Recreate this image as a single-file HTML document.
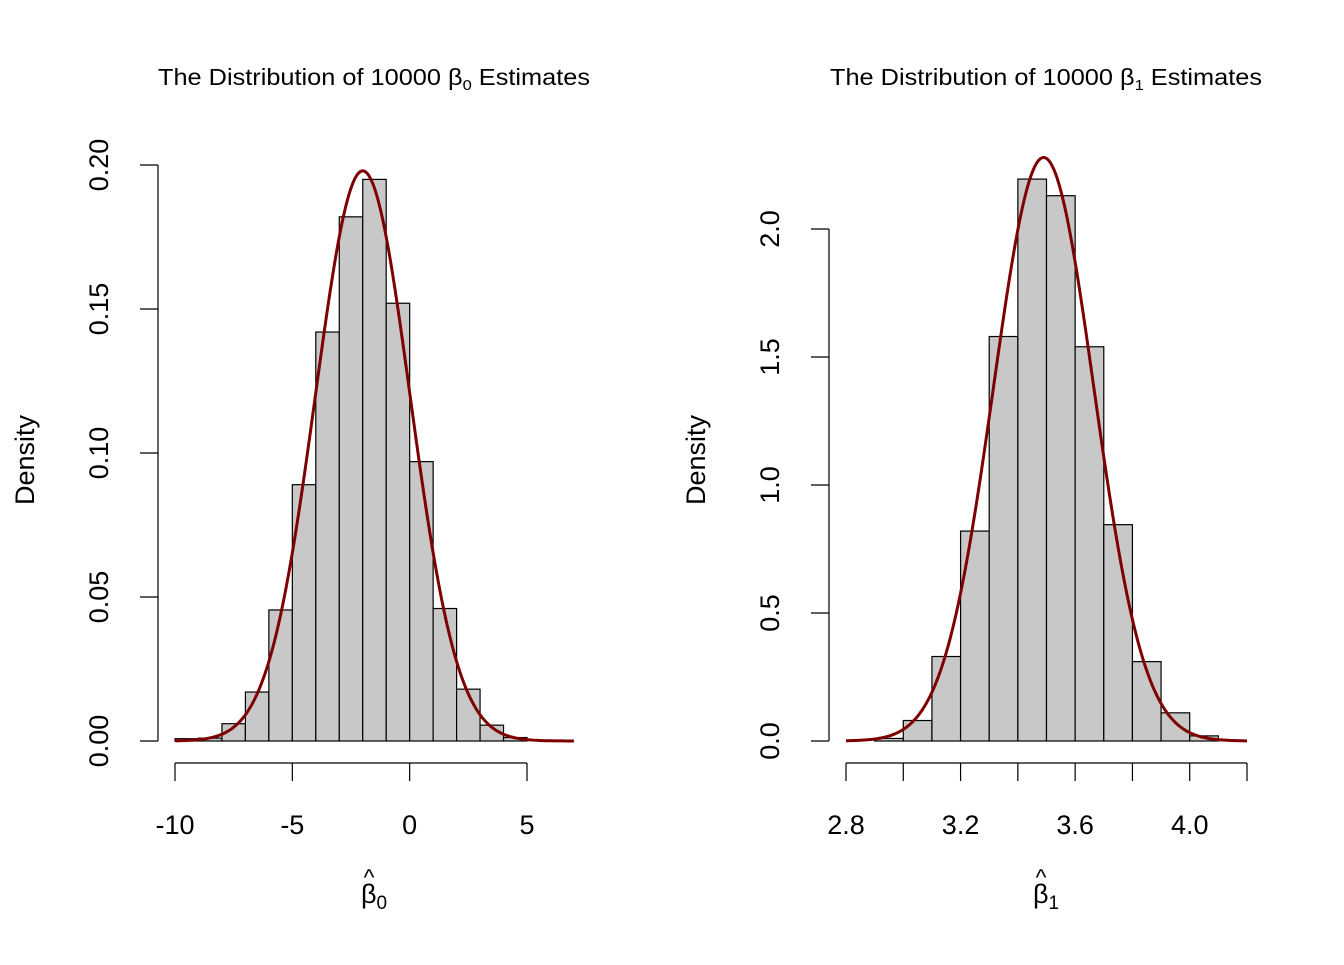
<!DOCTYPE html>
<html><head><meta charset="utf-8"><style>
body{margin:0;background:#fff;}
svg text{font-family:"Liberation Sans",Arial,sans-serif;fill:#000;}
</style></head><body>
<svg id="c" width="1344" height="960" xmlns="http://www.w3.org/2000/svg"></svg>
<script>
const b0Edges=[-10,-9,-8,-7,-6,-5,-4,-3,-2,-1,0,1,2,3,4,5];
const b0Dens=[0.0008,0.001,0.006,0.017,0.0455,0.089,0.142,0.182,0.195,0.152,0.097,0.046,0.018,0.0055,0.0012];
const b0Mean=-2.0, b0Sd=2.015;
const b0XTicks=[-10,-5,0,5];
const b0YTicks=[0,0.05,0.10,0.15,0.20];
const b0YLabels=["0.00","0.05","0.10","0.15","0.20"];
const b1Edges=[2.9,3.0,3.1,3.2,3.3,3.4,3.5,3.6,3.7,3.8,3.9,4.0,4.1];
const b1Dens=[0.01,0.08,0.33,0.82,1.58,2.195,2.13,1.54,0.845,0.31,0.11,0.02];
const b1Mean=3.49, b1Sd=0.175;
const b1XTicks=[2.8,3.0,3.2,3.4,3.6,3.8,4.0,4.2];
const b1XLabels=["2.8","","3.2","","3.6","","4.0",""];
const b1YTicks=[0,0.5,1.0,1.5,2.0];
const b1YLabels=["0.0","0.5","1.0","1.5","2.0"];
const svg=document.getElementById('c');
const NS='http://www.w3.org/2000/svg';
function mk(t,a,txt){const e=document.createElementNS(NS,t);for(const k in a)e.setAttribute(k,a[k]);if(txt!==undefined)e.textContent=txt;svg.appendChild(e);return e;}
function panel(o){
 const sx=v=>o.x0+(v-o.xa)/(o.xb-o.xa)*(o.x1-o.x0);
 const sy=v=>741-v*o.yk;
 for(let i=0;i<o.dens.length;i++){
  const r=mk('rect',{x:sx(o.edges[i]),y:sy(o.dens[i]),width:sx(o.edges[i+1])-sx(o.edges[i]),height:741-sy(o.dens[i]),fill:'#c8c8c8',stroke:'#000','stroke-width':1.2});
  
  
 }
 let d='';
 for(let i=0;i<=200;i++){const v=o.ca+(o.cb-o.ca)*i/200;const y=Math.exp(-0.5*((v-o.mean)/o.sd)**2)/(o.sd*Math.sqrt(2*Math.PI));d+=(i?'L':'M')+sx(v).toFixed(2)+','+sy(y).toFixed(2);}
 const p=mk('path',{d:d,fill:'none',stroke:'#7f0000','stroke-width':3});
 
 
 const xs=o.xt;
 const xa=mk('line',{x1:sx(xs[0]),x2:sx(xs[xs.length-1]),y1:763,y2:763,stroke:'#000','stroke-width':1.2});
 
 
 xs.forEach((v,i)=>{mk('line',{x1:sx(v),x2:sx(v),y1:763,y2:781,stroke:'#000','stroke-width':1.2});
  const lab=o.xl?o.xl[i]:String(v);
  if(lab){const t=mk('text',{x:sx(v),y:834,'font-size':27,'text-anchor':'middle'},lab);
  
  }
 });
 const ys=o.yt;
 const ya=mk('line',{x1:o.ax,x2:o.ax,y1:sy(ys[0]),y2:sy(ys[ys.length-1]),stroke:'#000','stroke-width':1.2});
 
 
 ys.forEach((v,i)=>{const y=sy(v);mk('line',{x1:o.ax-18,x2:o.ax,y1:y,y2:y,stroke:'#000','stroke-width':1.2});
  const t=mk('text',{x:0,y:0,'font-size':27,'text-anchor':'middle',transform:`translate(${o.ax-50},${y}) rotate(-90)`},o.yl[i]);
  
  
 });
 const yt=mk('text',{x:0,y:0,'font-size':27,'text-anchor':'middle',transform:`translate(${o.ax-124},460) rotate(-90)`},'Density');
 
 
 const tt=mk('text',{x:o.tx,y:85,'font-size':23,'text-anchor':'middle',textLength:432,lengthAdjust:'spacingAndGlyphs'});
 tt.innerHTML='The Distribution of 10000 β<tspan font-size="15" dy="5">'+o.sub+'</tspan><tspan dy="-5"> Estimates</tspan>';
 
 
 const xl=mk('text',{x:o.tx,y:903,'font-size':27,'text-anchor':'middle'});
 xl.innerHTML='β<tspan font-size="19" dy="6">'+o.sub+'</tspan>';
 
 
 mk('text',{x:o.tx-5,y:885,'font-size':23,'text-anchor':'middle'},'^');
}
panel({edges:b0Edges,dens:b0Dens,mean:b0Mean,sd:b0Sd,xa:-10,xb:5,x0:175,x1:527,ca:-10,cb:7,yk:2880,xt:b0XTicks,yt:b0YTicks,yl:b0YLabels,ax:158,tx:374,sub:'0'});
panel({edges:b1Edges,dens:b1Dens,mean:b1Mean,sd:b1Sd,xa:2.8,xb:4.2,x0:846,x1:1247,ca:2.8,cb:4.2,yk:256,xt:b1XTicks,xl:b1XLabels,yt:b1YTicks,yl:b1YLabels,ax:829,tx:1046,sub:'1'});
</script>
</body></html>
